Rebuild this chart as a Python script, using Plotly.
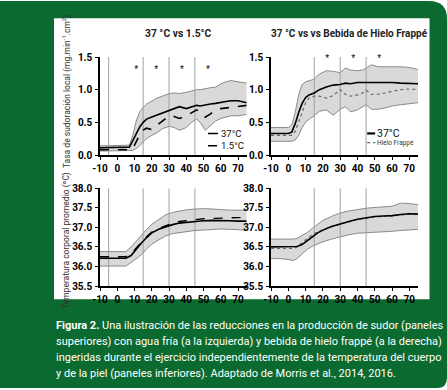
import plotly.graph_objects as go

W, H = 447, 390
FONT = "Roboto, Liberation Sans, sans-serif"

# ---------------- data ----------------
x_ticks = [-10, 0, 10, 20, 30, 40, 50, 60, 70]
x_tick_text = ["-10", "0", "10", "20", "30", "40", "50", "60", "70"]
y_top_ticks = [0.0, 0.5, 1.0, 1.5]
y_top_text = ["0.0", "0.5", "1.0", "1.5"]
y_bot_ticks = [35.5, 36.0, 36.5, 37.0, 37.5, 38.0]
y_bot_text = ["35.5", "36.0", "36.5", "37.0", "37.5", "38.0"]

# top-left: sweat rate, 37 C vs 1.5 C
tl_t = [-10, -5, 0, 5, 7, 9, 11, 13, 15, 17, 20, 23, 26, 30, 33, 36, 40, 43, 46, 48, 51, 54, 57, 60, 63, 66, 70, 75]
tl_37 = [0.11, 0.11, 0.11, 0.11, 0.12, 0.22, 0.33, 0.43, 0.50, 0.55, 0.58, 0.61, 0.64, 0.69, 0.72, 0.74, 0.71, 0.74, 0.76, 0.75, 0.77, 0.78, 0.79, 0.81, 0.82, 0.83, 0.83, 0.80]
tl_15 = [0.08, 0.08, 0.08, 0.08, 0.08, 0.10, 0.20, 0.31, 0.38, 0.41, 0.39, 0.45, 0.52, 0.60, 0.59, 0.56, 0.60, 0.65, 0.69, 0.66, 0.58, 0.63, 0.69, 0.71, 0.72, 0.73, 0.75, 0.76]
tl_up = [0.14, 0.14, 0.14, 0.14, 0.15, 0.30, 0.52, 0.66, 0.73, 0.78, 0.83, 0.87, 0.90, 0.94, 0.95, 0.94, 0.96, 0.98, 1.00, 1.00, 1.02, 1.03, 1.04, 1.09, 1.12, 1.14, 1.12, 1.10]
tl_lo = [0.06, 0.06, 0.06, 0.06, 0.06, 0.07, 0.10, 0.14, 0.20, 0.25, 0.30, 0.34, 0.40, 0.44, 0.42, 0.38, 0.42, 0.50, 0.55, 0.50, 0.38, 0.45, 0.52, 0.56, 0.58, 0.60, 0.60, 0.62]

# top-right: sweat rate, 37 C vs ice slurry
tr_t = [-10, -5, 0, 2, 4, 6, 8, 10, 12, 15, 18, 22, 26, 30, 33, 36, 40, 43, 45, 48, 52, 56, 60, 65, 70, 75]
tr_37 = [0.33, 0.33, 0.33, 0.35, 0.48, 0.65, 0.79, 0.88, 0.92, 0.95, 1.00, 1.04, 1.07, 1.08, 1.10, 1.09, 1.11, 1.11, 1.11, 1.12, 1.12, 1.11, 1.11, 1.10, 1.10, 1.09]
tr_ice = [0.30, 0.30, 0.30, 0.30, 0.36, 0.50, 0.65, 0.80, 0.87, 0.90, 0.90, 0.87, 0.91, 1.00, 0.93, 0.90, 0.92, 0.95, 0.99, 0.93, 0.93, 0.95, 0.97, 1.00, 1.01, 1.00]
tr_up = [0.42, 0.42, 0.42, 0.46, 0.65, 0.92, 1.08, 1.12, 1.14, 1.16, 1.24, 1.29, 1.28, 1.26, 1.33, 1.30, 1.29, 1.30, 1.33, 1.38, 1.35, 1.35, 1.36, 1.35, 1.34, 1.31]
tr_lo = [0.21, 0.21, 0.21, 0.21, 0.23, 0.30, 0.42, 0.50, 0.55, 0.60, 0.67, 0.69, 0.61, 0.70, 0.74, 0.66, 0.69, 0.74, 0.77, 0.70, 0.70, 0.72, 0.75, 0.77, 0.79, 0.80]

# bottom-left: mean body temperature, 37 C vs 1.5 C
bl_t = [-10, -5, 0, 5, 8, 11, 14, 17, 20, 24, 28, 32, 36, 40, 45, 50, 55, 60, 65, 70, 75]
bl_37 = [36.21, 36.21, 36.21, 36.21, 36.28, 36.45, 36.60, 36.74, 36.86, 36.95, 37.02, 37.07, 37.11, 37.13, 37.16, 37.17, 37.18, 37.18, 37.17, 37.16, 37.16]
bl_15 = [36.25, 36.25, 36.25, 36.25, 36.32, 36.48, 36.62, 36.76, 36.88, 36.97, 37.05, 37.11, 37.15, 37.17, 37.20, 37.22, 37.23, 37.24, 37.25, 37.25, 37.25]
bl_up = [36.38, 36.38, 36.38, 36.38, 36.50, 36.66, 36.80, 36.95, 37.08, 37.20, 37.32, 37.38, 37.42, 37.45, 37.47, 37.48, 37.47, 37.45, 37.44, 37.44, 37.44]
bl_lo = [36.01, 36.01, 36.01, 36.01, 36.10, 36.20, 36.30, 36.45, 36.57, 36.68, 36.78, 36.84, 36.87, 36.90, 36.92, 36.93, 36.95, 36.96, 36.95, 36.94, 36.93]

# bottom-right: mean body temperature, 37 C vs ice slurry
br_t = [-10, -5, 0, 3, 5, 8, 11, 14, 17, 20, 25, 30, 35, 40, 45, 50, 55, 60, 65, 70, 75]
br_37 = [36.50, 36.50, 36.50, 36.50, 36.51, 36.56, 36.65, 36.76, 36.86, 36.93, 37.02, 37.09, 37.15, 37.21, 37.25, 37.28, 37.29, 37.30, 37.33, 37.35, 37.34]
br_ice = [36.46, 36.46, 36.46, 36.46, 36.50, 36.60, 36.72, 36.82, 36.89, 36.94, 37.02, 37.08, 37.14, 37.20, 37.24, 37.27, 37.28, 37.29, 37.32, 37.34, 37.33]
br_up = [36.70, 36.70, 36.70, 36.70, 36.72, 36.79, 36.87, 36.98, 37.08, 37.18, 37.28, 37.37, 37.42, 37.46, 37.49, 37.51, 37.52, 37.54, 37.62, 37.61, 37.58]
br_lo = [36.20, 36.20, 36.18, 36.15, 36.20, 36.32, 36.44, 36.52, 36.58, 36.63, 36.70, 36.76, 36.81, 36.85, 36.86, 36.87, 36.88, 36.90, 36.92, 36.94, 36.95]

vline_left = [-5, 15, 30, 45]
vline_right = [15, 30, 45]
star_left_x = [11, 22.5, 37.5, 52.5]
star_right_x = [22.5, 37.5, 52.5]
star_left_y = 1.29
star_right_y = 1.46

title_left = "37 °C vs 1.5°C"
title_right = "37 °C vs vs Bebida de Hielo Frappé"
ytitle_top = "Tasa de sudoración local (mg.min<sup>-1</sup>.cm<sup>2</sup>)"
ytitle_bot = "Temperatura corporal promedio (ºC)"
caption_lines = [
    "<b>Figura 2.</b> Una ilustración de las reducciones en la producción de sudor (paneles",
    "superiores) con agua fría (a la izquierda) y bebida de hielo frappé (a la derecha)",
    "ingeridas durante el ejercicio independientemente de la temperatura del cuerpo",
    "y de la piel (paneles inferiores). Adaptado de Morris et al., 2014, 2016.",
]

# ---------------- figure ----------------
GREEN = "#0b6a2f"
BAND = "#d9d9d9"
EDGE = "#8a8a8a"
VLINE = "#a0a0a0"
DOTC = "#666666"

fig = go.Figure()

panels = [
    dict(ax="x", ay="y", t=tl_t, up=tl_up, lo=tl_lo, yr=[0, 1.5], vl=vline_left,
         lines=[(tl_37, "solid", 1.6, "black"), (tl_15, "dash", 1.6, "black")]),
    dict(ax="x2", ay="y2", t=tr_t, up=tr_up, lo=tr_lo, yr=[0, 1.5], vl=vline_right,
         lines=[(tr_ice, "dot", 1.2, DOTC), (tr_37, "solid", 1.6, "black")]),
    dict(ax="x3", ay="y3", t=bl_t, up=bl_up, lo=bl_lo, yr=[35.5, 38], vl=vline_left,
         lines=[(bl_15, "dash", 1.4, "black"), (bl_37, "solid", 1.6, "black")]),
    dict(ax="x4", ay="y4", t=br_t, up=br_up, lo=br_lo, yr=[35.5, 38], vl=vline_right,
         lines=[(br_ice, "dot", 1.2, DOTC), (br_37, "solid", 1.6, "black")]),
]

for p in panels:
    fig.add_trace(go.Scatter(x=p["t"], y=p["lo"], xaxis=p["ax"], yaxis=p["ay"], mode="lines",
                             line=dict(color=EDGE, width=1), hoverinfo="skip", showlegend=False))
    fig.add_trace(go.Scatter(x=p["t"], y=p["up"], xaxis=p["ax"], yaxis=p["ay"], mode="lines",
                             fill="tonexty", fillcolor=BAND,
                             line=dict(color=EDGE, width=1), hoverinfo="skip", showlegend=False))
    for v in p["vl"]:
        fig.add_trace(go.Scatter(x=[v, v], y=p["yr"], xaxis=p["ax"], yaxis=p["ay"], mode="lines",
                                 line=dict(color=VLINE, width=1), hoverinfo="skip", showlegend=False))
    for vals, dash, w, c in p["lines"]:
        fig.add_trace(go.Scatter(x=p["t"], y=vals, xaxis=p["ax"], yaxis=p["ay"], mode="lines",
                                 line=dict(color=c, width=w, dash=dash), showlegend=False))

# asterisks
STAR_FONT = dict(family="Liberation Sans, Arial, sans-serif", size=10, color="#000000")
fig.add_trace(go.Scatter(x=star_left_x, y=[star_left_y] * len(star_left_x), xaxis="x", yaxis="y",
                         mode="text", text=["*"] * len(star_left_x), cliponaxis=False,
                         textfont=STAR_FONT, showlegend=False))
fig.add_trace(go.Scatter(x=star_right_x, y=[star_right_y] * len(star_right_x), xaxis="x2", yaxis="y2",
                         mode="text", text=["*"] * len(star_right_x), cliponaxis=False,
                         textfont=STAR_FONT, showlegend=False))

# ---------------- axes ----------------
xl = [100 / W, 246.7 / W]
xr = [271 / W, 418 / W]
yt = [1 - 155 / H, 1 - 57 / H]
yb = [1 - 286 / H, 1 - 188.3 / H]

tickfont = dict(family=FONT, size=10, color="black", weight="bold")
common = dict(showline=True, linecolor="black", linewidth=1.5, ticks="outside", ticklen=3,
              tickwidth=1.3, tickcolor="black", showgrid=False, zeroline=False,
              tickfont=tickfont, fixedrange=True, automargin=False)

def xax(dom, anchor):
    return dict(domain=dom, anchor=anchor, range=[-10, 75], tickvals=x_ticks, ticktext=x_tick_text, **common)

def yax(dom, anchor, rng, tv, tt):
    return dict(domain=dom, anchor=anchor, range=rng, tickvals=tv, ticktext=tt, ticklabelstandoff=1, **common)

fig.update_layout(
    template="none",
    width=W, height=H,
    margin=dict(l=0, r=0, t=0, b=0, pad=0, autoexpand=False),
    paper_bgcolor="white",
    plot_bgcolor="rgba(0,0,0,0)",
    xaxis=xax(xl, "y"), yaxis=yax(yt, "x", [0, 1.5], y_top_ticks, y_top_text),
    xaxis2=xax(xr, "y2"), yaxis2=yax(yt, "x2", [0, 1.5], y_top_ticks, y_top_text),
    xaxis3=xax(xl, "y3"), yaxis3=yax(yb, "x3", [35.5, 38], y_bot_ticks, y_bot_text),
    xaxis4=xax(xr, "y4"), yaxis4=yax(yb, "x4", [35.5, 38], y_bot_ticks, y_bot_text),
    showlegend=False,
)

# ---------------- frame ----------------
rx1, ry1 = 18 / W, 18 / H
rx2, ry2 = 10 / W, 10 / H
ytop = 1 - 1 / H
ybot = 1 - 388 / H
path = (f"M 0,{ybot} L {1 - rx2},{ybot} Q 1,{ybot} 1,{ybot + ry2} "
        f"L 1,{ytop - ry1} Q 1,{ytop} {1 - rx1},{ytop} L 0,{ytop} Z")
shapes = [
    dict(type="path", xref="paper", yref="paper", path=path, fillcolor=GREEN,
         line=dict(width=0), layer="below"),
    dict(type="rect", xref="paper", yref="paper", x0=54 / W, x1=429.5 / W,
         y0=1 - 299.3 / H, y1=1 - 18.3 / H, fillcolor="white", line=dict(width=0), layer="below"),
    # legend glyphs
    dict(type="line", xref="x", yref="y", x0=52.6, x1=58.4, y0=0.33, y1=0.33,
         line=dict(color="black", width=1.5)),
    dict(type="line", xref="x", yref="y", x0=52.6, x1=58.4, y0=0.14, y1=0.14,
         line=dict(color="black", width=1.5, dash="dash")),
    dict(type="line", xref="x2", yref="y2", x0=45.6, x1=50.2, y0=0.33, y1=0.33,
         line=dict(color="black", width=2.2)),
    dict(type="line", xref="x2", yref="y2", x0=45.6, x1=50.2, y0=0.19, y1=0.19,
         line=dict(color=DOTC, width=1.2, dash="dot")),
]
fig.update_layout(shapes=shapes)

ann = []
def pann(text, px, py, size, color="#222", angle=0, xa="center"):
    ann.append(dict(text=text, x=px / W, y=1 - py / H, xref="paper", yref="paper",
                    xanchor=xa, yanchor="middle", textangle=angle, showarrow=False,
                    font=dict(family=FONT, size=size, color=color)))

# panel titles
pann(f"<b>{title_left}</b>", 178, 33, 10.3)
pann(f"<b>{title_right}</b>", 349, 33, 10)
# y titles
pann(ytitle_top, 66, 92, 8.5, color="#333", angle=-90)
pann(ytitle_bot, 66, 241, 8.5, color="#333", angle=-90)
# legends
ann.append(dict(text="37°C", x=58.8, y=0.33, xref="x", yref="y", xanchor="left", yanchor="middle",
                showarrow=False, font=dict(family=FONT, size=9.5, color="#111")))
ann.append(dict(text="1.5°C", x=58.8, y=0.14, xref="x", yref="y", xanchor="left", yanchor="middle",
                showarrow=False, font=dict(family=FONT, size=9.5, color="#111")))
ann.append(dict(text="37°C", x=50.4, y=0.33, xref="x2", yref="y2", xanchor="left", yanchor="middle",
                showarrow=False, font=dict(family=FONT, size=10.5, color="#111")))
ann.append(dict(text="Hielo Frappé", x=50.4, y=0.19, xref="x2", yref="y2", xanchor="left", yanchor="middle",
                showarrow=False, font=dict(family=FONT, size=6.5, color="#333")))
# caption
for i, line in enumerate(caption_lines):
    pann(line, 53.5, 325.5 + 15.9 * i, 11, color="white", xa="left")
fig.update_layout(annotations=ann)

fig.write_html("out.html", config={"displayModeBar": False},
               post_script="document.body.style.margin='0px';document.body.style.overflow='hidden';")
